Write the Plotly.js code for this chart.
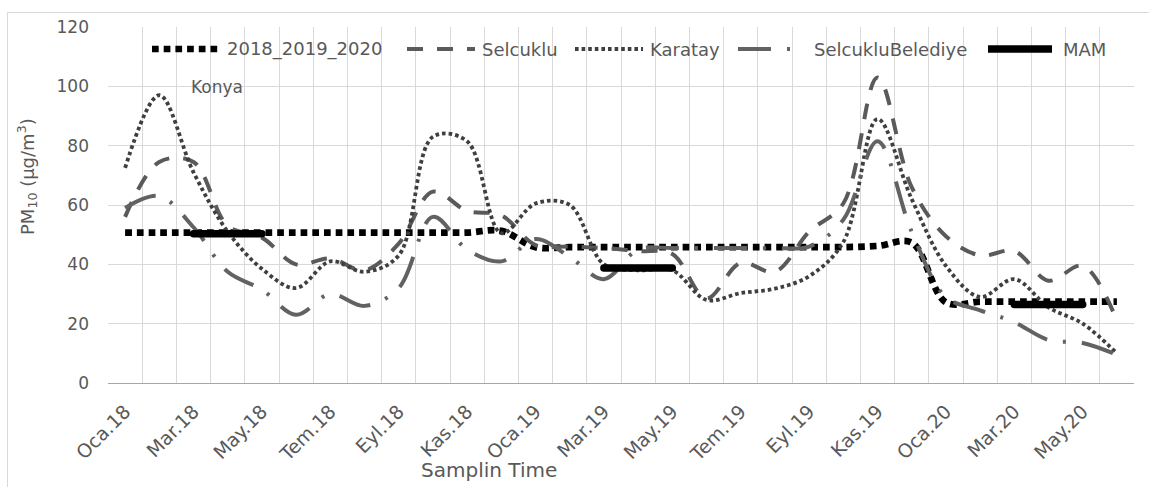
<!DOCTYPE html>
<html>
<head>
<meta charset="utf-8">
<script src="https://cdn.plot.ly/plotly-3.0.1.min.js"></script>
<style>
  html, body { margin: 0; padding: 0; background: #ffffff; }
  #chart { width: 1149px; height: 487px; }
  /* the MAM campaign bars end with rounded caps */
  #chart .scatterlayer .trace:nth-child(5) path.js-line { stroke-linecap: round; }
</style>
</head>
<body>
<div id="chart"></div>
<script>
// Monthly sampling periods (Turkish month abbreviations)
const months = [
  'Oca.18','Şub.18','Mar.18','Nis.18','May.18','Haz.18','Tem.18','Ağu.18','Eyl.18','Eki.18','Kas.18','Ara.18',
  'Oca.19','Şub.19','Mar.19','Nis.19','May.19','Haz.19','Tem.19','Ağu.19','Eyl.19','Eki.19','Kas.19','Ara.19',
  'Oca.20','Şub.20','Mar.20','Nis.20','May.20','Haz.20'
];

// PM10 concentrations, µg/m³
const avg3yr = [50.7, 50.7, 50.7, 50.7, 50.7, 50.7, 50.7, 50.7, 50.7, 50.7, 50.7, 51.3,
                45.8, 45.8, 45.8, 45.8, 45.8, 45.8, 45.8, 45.8, 45.8, 45.8, 46.2, 47.3,
                27.2, 27.4, 27.4, 27.4, 27.4, 27.4];
const selcuklu = [56, 74.5, 74.5, 53, 49, 40, 42, 38, 47, 64.5, 58, 56.5,
                  46.5, 46, 45.5, 44.5, 43.5, 28.5, 40.5, 37.5, 51, 60.5, 103, 66,
                  49.5, 43, 44.5, 34.5, 39.5, 21];
const karatay = [72.5, 97, 71, 51, 38.5, 32, 41, 37.5, 43, 83, 81.5, 50.5,
                 60.5, 60, 40, 38, 38, 28, 30.3, 31.8, 36, 47.5, 89, 62,
                 39.5, 29, 35, 25.5, 20, 10];
const selcukluBelediye = [59, 63, 52.5, 37.5, 31.5, 23, 30, 26, 32, 56, 45, 41,
                          48.5, 42.5, 35, 45, 45.5, 45.5, 45.5, 45.5, 46, 55, 81.5, 51,
                          29, 24.5, 20.5, 14.5, 13.5, 9.5];
const mam = [null, null, 50.3, 50.3, 50.3, null, null, null, null, null, null, null,
             null, null, 38.8, 38.8, 38.8, null, null, null, null, null, null, null,
             null, null, 26.5, 26.5, 26.5, null];

const seriesNames = ['2018_2019_2020', 'Selcuklu', 'Karatay', 'SelcukluBelediye', 'MAM'];
const seriesValues = [avg3yr, selcuklu, karatay, selcukluBelediye, mam];

// Page geometry
const W = 1149, H = 487;
const M = { l: 108, r: 15, t: 27, b: 104, pad: 0 };
const PW = W - M.l - M.r, PH = H - M.t - M.b;
const fx = px => (px - M.l) / PW;
const fy = py => (H - M.b - py) / PH;

const FONT = '"DejaVu Sans", sans-serif';
const TXT = '#595959';
const GRID = '#d9d9d9';

// Line styles per series, plus where each key sample sits in the top key row
const styles = [
  { color: '#000000', width: 6.7, dash: '6.7px,5px',              key: [152, 218, 225] },
  { color: '#5a5a5a', width: 4,   dash: '16px,14px',              key: [407, 475, 480] },
  { color: '#3f3f3f', width: 3.8, dash: '3.6px,3px',              key: [575, 643, 648] },
  { color: '#626262', width: 4,   dash: '33px,16px,3px,16px',     key: [738, 795, 812] },
  { color: '#000000', width: 7.5, dash: 'solid',                  key: [988, 1052, 1061] }
];

const xIdx = months.map((_, i) => i);

const traces = seriesValues.map((vals, k) => ({
  type: 'scatter',
  mode: 'lines',
  name: seriesNames[k],
  x: xIdx,
  y: vals,
  line: { color: styles[k].color, width: styles[k].width, dash: styles[k].dash, shape: 'spline', smoothing: 1 },
  connectgaps: false,
  showlegend: false,
  hoverinfo: 'skip'
}));

// Labelled ticks every second month; cell borders between every month
const tickIdx = xIdx.filter(i => i % 2 === 0);
const tickText = tickIdx.map(i => months[i]);

const keyY = 49;
const shapes = [
  // outer chart frame
  { type: 'rect', xref: 'paper', yref: 'paper', layer: 'below',
    x0: fx(7.5), x1: fx(1200), y0: fy(520), y1: fy(12.5),
    line: { color: GRID, width: 1 }, fillcolor: 'rgba(0,0,0,0)' }
];
const annotations = [];

styles.forEach((s, k) => {
  shapes.push({
    type: 'line', xref: 'paper', yref: 'paper',
    x0: fx(s.key[0]), x1: fx(s.key[1]), y0: fy(keyY), y1: fy(keyY),
    line: { color: s.color, width: s.width, dash: s.dash }
  });
  annotations.push({
    xref: 'paper', yref: 'paper', x: fx(s.key[2]), y: fy(keyY),
    xanchor: 'left', yanchor: 'middle', showarrow: false,
    text: seriesNames[k], font: { family: FONT, size: 18, color: TXT }
  });
});

annotations.push({
  xref: 'paper', yref: 'paper', x: fx(189), y: fy(87),
  xanchor: 'left', yanchor: 'middle', showarrow: false,
  text: 'Konya', font: { family: FONT, size: 17, color: TXT }
});

annotations.push({
  xref: 'paper', yref: 'paper', x: fx(489), y: fy(470),
  xanchor: 'center', yanchor: 'middle', showarrow: false,
  text: 'Samplin Time', font: { family: FONT, size: 20, color: TXT }
});

annotations.push({
  xref: 'paper', yref: 'paper', x: fx(27), y: fy(177),
  xanchor: 'center', yanchor: 'middle', showarrow: false, textangle: -90,
  text: 'PM<sub>10</sub> (μg/m<sup>3</sup>)', font: { family: FONT, size: 18, color: TXT }
});

const layout = {
  width: W, height: H,
  margin: M,
  paper_bgcolor: '#ffffff',
  plot_bgcolor: '#ffffff',
  showlegend: false,
  font: { family: FONT, color: TXT },
  xaxis: {
    type: 'linear',
    range: [-0.5, xIdx.length - 0.5],
    tickmode: 'array',
    tickvals: tickIdx,
    ticktext: tickText,
    tickangle: -45,
    tickfont: { family: FONT, size: 19, color: TXT },
    ticks: '',
    ticklabelstandoff: 9,
    showgrid: false,
    zeroline: false,
    showline: true,
    linecolor: '#a6a6a6',
    linewidth: 1,
    minor: { tick0: -0.5, dtick: 1, showgrid: true, gridcolor: GRID, gridwidth: 1, ticks: '' },
    fixedrange: true
  },
  yaxis: {
    range: [0, 120],
    tickmode: 'linear',
    tick0: 0,
    dtick: 20,
    tickfont: { family: FONT, size: 17, color: TXT },
    ticks: '',
    ticklabelstandoff: 18,
    showgrid: true,
    gridcolor: GRID,
    gridwidth: 1,
    zeroline: false,
    showline: false,
    fixedrange: true
  },
  shapes: shapes,
  annotations: annotations
};

Plotly.newPlot('chart', traces, layout, { staticPlot: true, displayModeBar: false });
</script>
</body>
</html>
